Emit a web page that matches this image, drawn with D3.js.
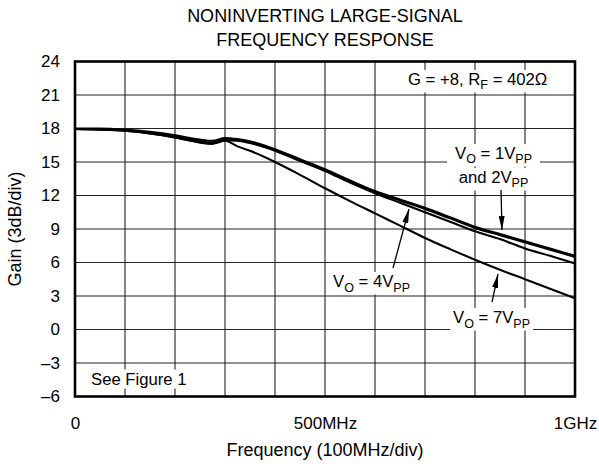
<!DOCTYPE html>
<html><head><meta charset="utf-8">
<script src="https://cdn.jsdelivr.net/npm/d3@7/dist/d3.min.js"></script>
<style>body{margin:0;background:#fff}svg text{font-family:"Liberation Sans",Arial,sans-serif;fill:#000}</style>
</head><body><svg id="c" width="599" height="464"></svg>
<script>
const freqMHz = [0, 50, 100, 150, 200, 250, 275, 300, 325, 350, 400, 450, 500, 550, 600, 650, 700, 750, 800, 850, 900, 950, 1000];
const gain1Vpp = [18.0, 18.0, 17.9, 17.7, 17.4, 17.0, 16.9, 17.15, 17.05, 16.85, 16.15, 15.25, 14.35, 13.35, 12.4, 11.65, 10.9, 10.05, 9.2, 8.55, 7.9, 7.25, 6.6];
const gain2Vpp = [17.95, 17.95, 17.85, 17.6, 17.3, 16.85, 16.75, 17.0, 16.95, 16.75, 16.05, 15.15, 14.25, 13.25, 12.3, 11.55, 10.8, 9.95, 9.1, 8.45, 7.8, 7.15, 6.5];
const gain4Vpp = [17.95, 17.9, 17.8, 17.55, 17.2, 16.75, 16.65, 16.95, 16.9, 16.7, 16.0, 15.1, 14.2, 13.15, 12.2, 11.35, 10.5, 9.65, 8.8, 8.1, 7.25, 6.6, 5.9];
const gain7Vpp = [17.95, 17.9, 17.8, 17.55, 17.2, 16.75, 16.65, 16.9, 16.4, 16.0, 15.0, 13.85, 12.65, 11.5, 10.4, 9.3, 8.2, 7.2, 6.25, 5.35, 4.5, 3.65, 2.8];
const yTicks = [24, 21, 18, 15, 12, 9, 6, 3, 0, -3, -6];
const xGrid = [0, 100, 200, 300, 400, 500, 600, 700, 800, 900, 1000];
const xTickLabels = {0: "0", 500: "500MHz", 1000: "1GHz"};

const svg = d3.select("#c");
const x = d3.scaleLinear().domain([0, 1000]).range([75, 575]);
const y = d3.scaleLinear().domain([-6, 24]).range([396.5, 61.5]);

// grid
const g = svg.append("g");
g.selectAll("line.v").data(xGrid).join("line")
  .attr("x1", d => x(d)).attr("x2", d => x(d)).attr("y1", y(24)).attr("y2", y(-6))
  .attr("stroke", "#222").attr("stroke-width", 1.1);
g.selectAll("line.h").data(yTicks).join("line")
  .attr("x1", x(0)).attr("x2", x(1000)).attr("y1", d => y(d)).attr("y2", d => y(d))
  .attr("stroke", "#222").attr("stroke-width", 1.1);

// axes labels
const yAxis = d3.axisLeft(y).tickValues(yTicks).tickSize(0).tickPadding(15)
  .tickFormat(d => d < 0 ? "\u2013" + Math.abs(d) : d);
const ya = svg.append("g").attr("transform", `translate(${x(0)},0)`).call(yAxis);
ya.select(".domain").remove();
ya.selectAll("text").style("font-size", "17px").attr("fill", "#000");

const xAxis = d3.axisBottom(x).tickValues([0, 500, 1000]).tickSize(0).tickPadding(20)
  .tickFormat(d => xTickLabels[d]);
const xa = svg.append("g").attr("transform", `translate(0,${y(-6)})`).call(xAxis);
xa.select(".domain").remove();
xa.selectAll("text").style("font-size", "17px").attr("fill", "#000");

// titles
svg.append("text").attr("x", 325).attr("y", 22).attr("text-anchor", "middle").style("font-size", "18px").text("NONINVERTING LARGE-SIGNAL");
svg.append("text").attr("x", 325).attr("y", 46).attr("text-anchor", "middle").style("font-size", "18px").text("FREQUENCY RESPONSE");
svg.append("text").attr("x", 325).attr("y", 456).attr("text-anchor", "middle").style("font-size", "18px").text("Frequency (100MHz/div)");
svg.append("text").attr("transform", `translate(21,${y(9)}) rotate(-90)`).attr("text-anchor", "middle").style("font-size", "18px").text("Gain (3dB/div)");

// annotations with white backgrounds
const ann = svg.append("g");
function label(px, py, parts, anchor) {
  const t = ann.append("text").attr("x", px).attr("y", py).attr("text-anchor", anchor || "start").style("font-size", "16.7px");
  let shift = 0;
  parts.forEach(p => {
    if (typeof p === "object") {
      t.append("tspan").attr("dy", 4.5 - shift).style("font-size", "12.5px").text(p.s);
      shift = 4.5;
    } else {
      t.append("tspan").attr("dy", -shift).text(p);
      shift = 0;
    }
  });
  return t;
}
function bg(t, pad) {
  const b = t.node().getBBox();
  ann.insert("rect", ":first-child").attr("x", b.x - pad).attr("y", b.y).attr("width", b.width + 2 * pad).attr("height", b.height).attr("fill", "#fff");
}
const t1 = label(x(666), y(21.9), ["G = +8, R", {s: "F"}, " = 402\u03a9"]);
bg(t1, 7);
const t2 = label(x(837), y(15.27), ["V", {s: "O"}, " = 1V", {s: "PP"}], "middle");
const t3 = label(x(837), y(13.12), ["and 2V", {s: "PP"}], "middle");
bg(t2, 8); bg(t3, 8);
const t4 = label(x(516), y(3.8), ["V", {s: "O"}, " = 4V", {s: "PP"}]);
bg(t4, 3);
const t5 = label(x(756), y(0.58), ["V", {s: "O"}, " = 7V", {s: "PP"}]);
bg(t5, 3);
const t6 = label(x(32), y(-4.93), ["See Figure 1"]);
bg(t6, 2);

// border
svg.append("rect").attr("x", x(0)).attr("y", y(24)).attr("width", x(1000) - x(0)).attr("height", y(-6) - y(24))
  .attr("fill", "none").attr("stroke", "#000").attr("stroke-width", 2.6);

// curves
const line = d3.line().x((d, i) => x(freqMHz[i])).y(d => y(d)).curve(d3.curveMonotoneX);
[gain1Vpp, gain2Vpp, gain4Vpp, gain7Vpp].forEach(s => {
  svg.append("path").attr("d", line(s)).attr("fill", "none").attr("stroke", "#000").attr("stroke-width", 2.1);
});

// arrows
const defs = svg.append("defs");
defs.append("marker").attr("id", "ah").attr("viewBox", "0 0 14 6").attr("refX", 14).attr("refY", 3)
  .attr("markerWidth", 14).attr("markerHeight", 6).attr("markerUnits", "userSpaceOnUse").attr("orient", "auto")
  .append("path").attr("d", "M0,0 L14,3 L0,6 Z").attr("fill", "#000");
function arrow(f1, g1, f2, g2) {
  svg.append("line").attr("x1", x(f1)).attr("y1", y(g1)).attr("x2", x(f2)).attr("y2", y(g2))
    .attr("stroke", "#000").attr("stroke-width", 1.3).attr("marker-end", "url(#ah)");
}
arrow(852, 12.49, 854, 8.91);
arrow(636, 5.51, 668, 10.79);
arrow(834, 2.46, 846, 4.97);
</script></body></html>
